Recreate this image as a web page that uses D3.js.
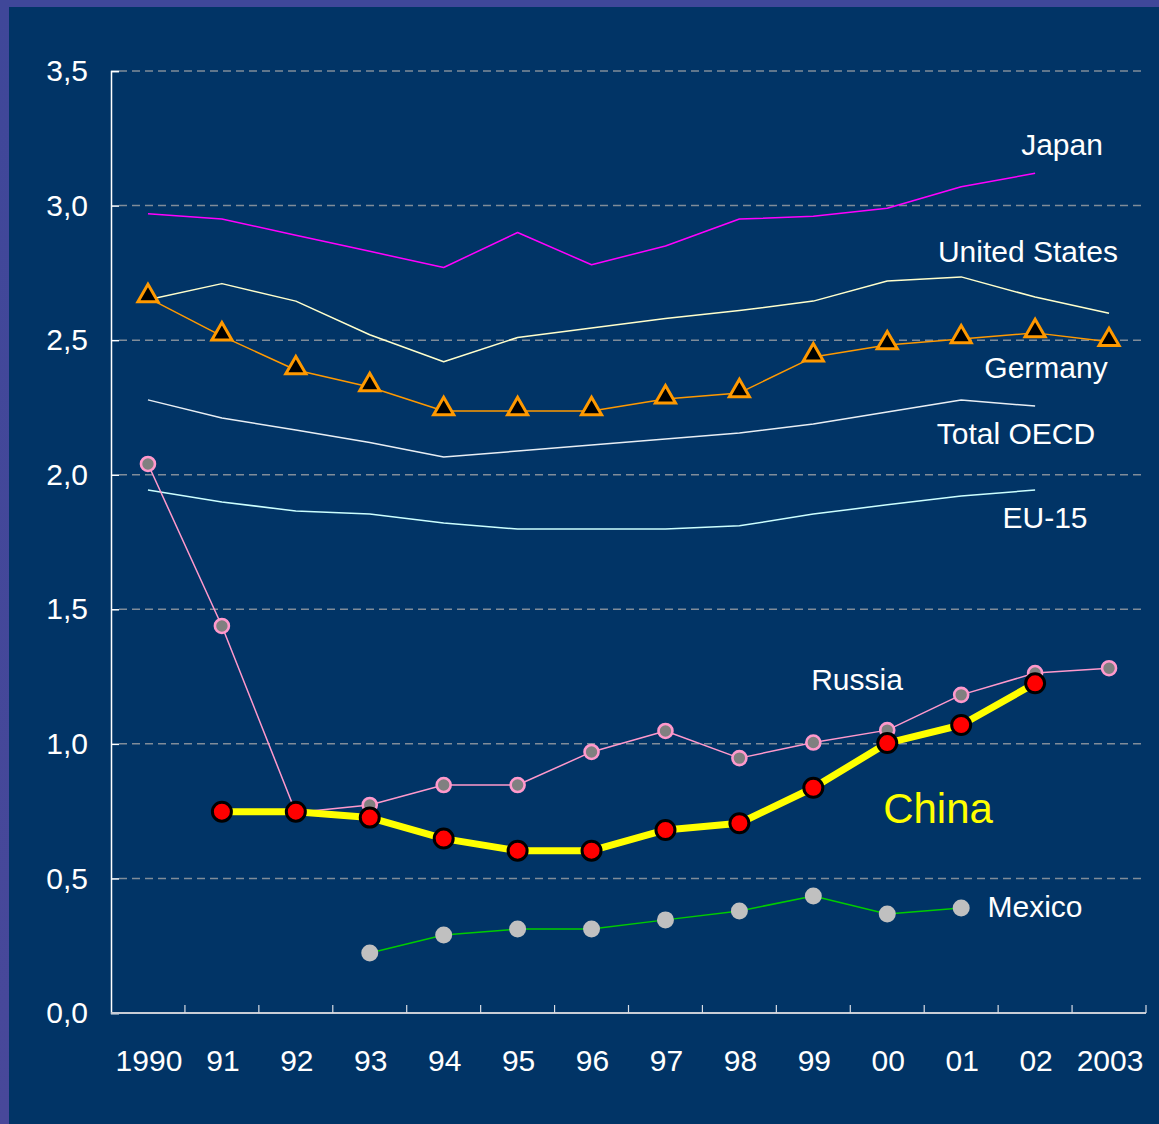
<!DOCTYPE html>
<html>
<head>
<meta charset="utf-8">
<script src="https://cdn.jsdelivr.net/npm/d3@7"></script>
<style>
  html, body { margin: 0; padding: 0; background: #003366; }
  svg { display: block; }
  text { font-family: "Liberation Sans", Arial, sans-serif; }
</style>
</head>
<body>
<svg id="chart" width="1159" height="1124"></svg>
<script>
// Year categories along the x axis
const years = ["1990", "91", "92", "93", "94", "95", "96", "97", "98", "99", "00", "01", "02", "2003"];

// Y axis tick values and their labels (comma decimal)
const yTicks = [0, 0.5, 1.0, 1.5, 2.0, 2.5, 3.0, 3.5];
const yTickLabels = ["0,0", "0,5", "1,0", "1,5", "2,0", "2,5", "3,0", "3,5"];

// Series values by year (null = no data)
const japan        = [2.97, 2.95, 2.89, 2.83, 2.77, 2.90, 2.78, 2.85, 2.95, 2.96, 2.99, 3.07, 3.12, null];
const unitedStates = [2.65, 2.71, 2.645, 2.52, 2.42, 2.51, 2.545, 2.58, 2.61, 2.645, 2.72, 2.735, 2.66, 2.60];
const germany      = [2.657, 2.515, 2.389, 2.326, 2.237, 2.237, 2.237, 2.281, 2.304, 2.437, 2.482, 2.504, 2.527, 2.494];
const totalOECD    = [2.278, 2.211, 2.166, 2.12, 2.066, 2.088, 2.11, 2.133, 2.155, 2.188, 2.233, 2.278, 2.255, null];
const eu15         = [1.943, 1.899, 1.865, 1.854, 1.821, 1.798, 1.798, 1.798, 1.81, 1.854, 1.888, 1.921, 1.943, null];
const russia       = [2.04, 1.438, 0.745, 0.773, 0.847, 0.847, 0.97, 1.048, 0.947, 1.005, 1.051, 1.182, 1.263, 1.281];
const china        = [null, 0.748, 0.748, 0.726, 0.648, 0.603, 0.603, 0.68, 0.705, 0.837, 1.003, 1.07, 1.225, null];
const mexico       = [null, null, null, 0.223, 0.29, 0.312, 0.312, 0.346, 0.379, 0.435, 0.368, 0.39, null, null];

const svg = d3.select("#chart");
const W = 1159, H = 1124;

// Frame: slide background with a bluish border strip on top and left
const defs = svg.append("defs");
const grad = defs.append("linearGradient").attr("id", "sideGrad")
  .attr("x1", 0).attr("y1", 0).attr("x2", 0).attr("y2", 1);
grad.append("stop").attr("offset", "0%").attr("stop-color", "#3f4799");
grad.append("stop").attr("offset", "100%").attr("stop-color", "#48489a");

svg.append("rect").attr("width", W).attr("height", H).attr("fill", "#013466");
svg.append("rect").attr("x", 0).attr("y", 0).attr("width", W).attr("height", 7).attr("fill", "#3f4799");
svg.append("rect").attr("x", 0).attr("y", 0).attr("width", 9).attr("height", H).attr("fill", "url(#sideGrad)");

// Scales
const x = d3.scaleBand().domain(years).range([111, 1146]).padding(0);
const xc = d => x(d) + x.bandwidth() / 2;
const y = d3.scaleLinear().domain([0, 3.5]).range([1013, 71]);

// Dashed horizontal gridlines
svg.append("g").selectAll("line")
  .data(yTicks.filter(v => v > 0))
  .join("line")
  .attr("x1", 119).attr("x2", 1146)
  .attr("y1", d => y(d)).attr("y2", d => y(d))
  .attr("stroke", "#808c99")
  .attr("stroke-width", 1.5)
  .attr("stroke-dasharray", "8,5");

// Y axis with inward ticks
const yAxis = d3.axisLeft(y)
  .tickValues(yTicks)
  .tickSize(-8)
  .tickPadding(23)
  .tickFormat((d, i) => yTickLabels[i]);
const gy = svg.append("g").attr("transform", "translate(111,0)").call(yAxis);
gy.select(".domain").attr("stroke", "#ffffff").attr("stroke-width", 1.5);
gy.selectAll(".tick line").attr("stroke", "#ffffff").attr("stroke-width", 1.5);
gy.selectAll(".tick text")
  .attr("fill", "#ffffff")
  .attr("font-size", 30)
  .attr("font-family", "Liberation Sans, Arial, sans-serif");

// X axis line, boundary ticks and year labels
const xBounds = years.map(d => x(d)).concat([x.range()[1]]);
const gx = svg.append("g");
gx.append("line")
  .attr("x1", 111).attr("x2", 1146)
  .attr("y1", y(0)).attr("y2", y(0))
  .attr("stroke", "#c8cdd6").attr("stroke-width", 2);
gx.selectAll("line.tk")
  .data(xBounds.slice(1))
  .join("line").attr("class", "tk")
  .attr("x1", d => d).attr("x2", d => d)
  .attr("y1", y(0)).attr("y2", y(0) - 8)
  .attr("stroke", "#d8dce4").attr("stroke-width", 1.2);
gx.selectAll("text")
  .data(years)
  .join("text")
  .attr("x", d => xc(d) + 1)
  .attr("y", 1071)
  .attr("text-anchor", "middle")
  .attr("fill", "#ffffff")
  .attr("font-size", 30)
  .text(d => d);

// Line generator skipping missing years
const lineGen = d3.line()
  .defined(d => d.v != null)
  .x(d => xc(d.year))
  .y(d => y(d.v));
const pts = arr => years.map((yr, i) => ({ year: yr, v: arr[i] }));

function drawLine(arr, color, width) {
  svg.append("path")
    .datum(pts(arr))
    .attr("fill", "none")
    .attr("stroke", color)
    .attr("stroke-width", width)
    .attr("stroke-linejoin", "round")
    .attr("d", lineGen);
}

// Plain lines
drawLine(japan, "#ff00ff", 1.5);
drawLine(unitedStates, "#ffffcc", 1.5);
drawLine(totalOECD, "#e8eef4", 1.5);
drawLine(eu15, "#ccffff", 1.5);

// Germany: orange line with triangle markers
drawLine(germany, "#ff9900", 1.5);
const tri = d3.symbol().type(d3.symbolTriangle).size(175);
svg.append("g").selectAll("path")
  .data(pts(germany).filter(d => d.v != null))
  .join("path")
  .attr("transform", d => `translate(${xc(d.year)},${y(d.v) - 2})`)
  .attr("d", tri)
  .attr("fill", "#000000")
  .attr("stroke", "#ff9900")
  .attr("stroke-width", 3)
  .attr("stroke-linejoin", "miter");

// Mexico: green line with light gray dots
drawLine(mexico, "#00cc00", 1.5);
svg.append("g").selectAll("circle")
  .data(pts(mexico).filter(d => d.v != null))
  .join("circle")
  .attr("cx", d => xc(d.year)).attr("cy", d => y(d.v))
  .attr("r", 8.5)
  .attr("fill", "#c0c0c0");

// Russia: pink line with gray dots outlined in pink
drawLine(russia, "#ff99cc", 1.5);
svg.append("g").selectAll("circle")
  .data(pts(russia).filter(d => d.v != null))
  .join("circle")
  .attr("cx", d => xc(d.year)).attr("cy", d => y(d.v))
  .attr("r", 7)
  .attr("fill", "#808080")
  .attr("stroke", "#ff99cc")
  .attr("stroke-width", 2.6);

// China: thick yellow line with red dots outlined in black
drawLine(china, "#ffff00", 7);
svg.append("g").selectAll("circle")
  .data(pts(china).filter(d => d.v != null))
  .join("circle")
  .attr("cx", d => xc(d.year)).attr("cy", d => y(d.v))
  .attr("r", 9.5)
  .attr("fill", "#ff0000")
  .attr("stroke", "#000000")
  .attr("stroke-width", 3);

// Series labels
const labels = [
  { text: "Japan", x: 1062, y: 155, size: 30, color: "#ffffff" },
  { text: "United States", x: 1028, y: 262, size: 30, color: "#ffffff" },
  { text: "Germany", x: 1046, y: 378, size: 30, color: "#ffffff" },
  { text: "Total OECD", x: 1016, y: 444, size: 30, color: "#ffffff" },
  { text: "EU-15", x: 1045, y: 528, size: 30, color: "#ffffff" },
  { text: "Russia", x: 857, y: 690, size: 30, color: "#ffffff" },
  { text: "China", x: 938, y: 823, size: 42, color: "#ffff00" },
  { text: "Mexico", x: 1035, y: 917, size: 30, color: "#ffffff" }
];
svg.append("g").selectAll("text")
  .data(labels)
  .join("text")
  .attr("x", d => d.x).attr("y", d => d.y)
  .attr("text-anchor", "middle")
  .attr("font-size", d => d.size)
  .attr("fill", d => d.color)
  .text(d => d.text);
</script>
</body>
</html>
